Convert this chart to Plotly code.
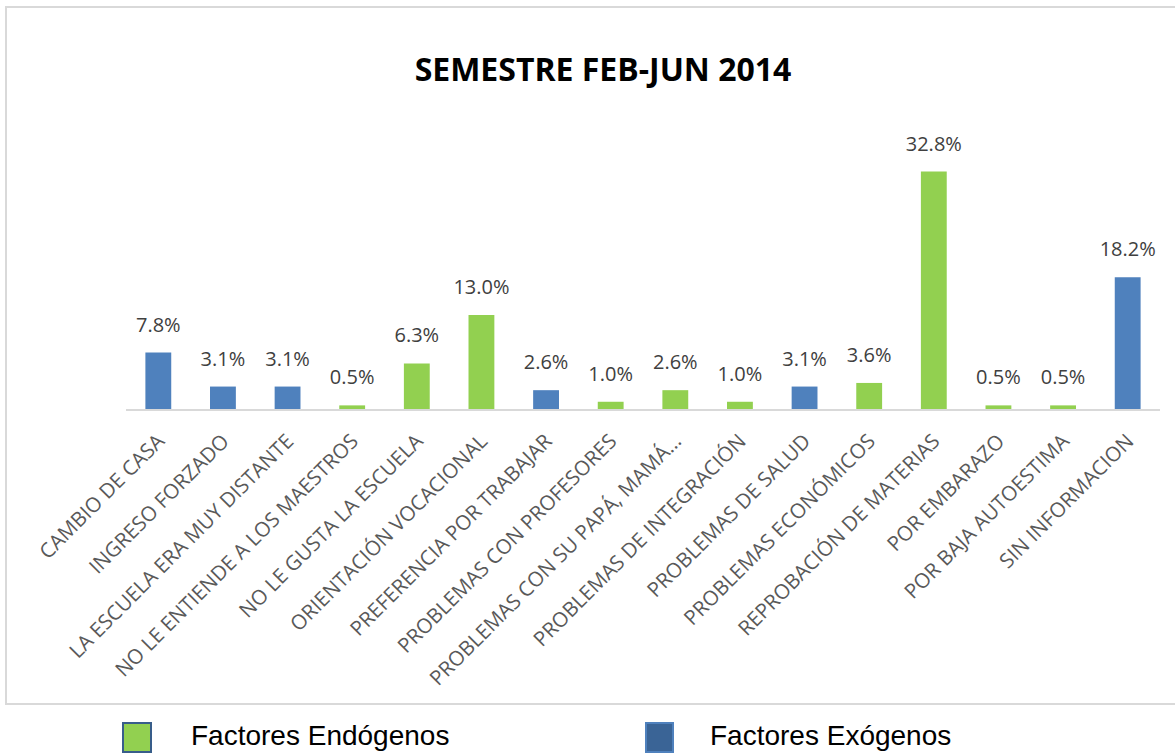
import plotly.graph_objects as go

categories = ["CAMBIO DE CASA", "INGRESO FORZADO", "LA ESCUELA ERA MUY DISTANTE",
              "NO LE ENTIENDE A LOS MAESTROS", "NO LE GUSTA LA ESCUELA",
              "ORIENTACIÓN VOCACIONAL", "PREFERENCIA POR TRABAJAR",
              "PROBLEMAS CON PROFESORES", "PROBLEMAS CON SU PAPÁ, MAMÁ…",
              "PROBLEMAS DE INTEGRACIÓN", "PROBLEMAS DE SALUD",
              "PROBLEMAS ECONÓMICOS", "REPROBACIÓN DE MATERIAS", "POR EMBARAZO",
              "POR BAJA AUTOESTIMA", "SIN INFORMACION"]
values = [7.8, 3.1, 3.1, 0.5, 6.3, 13.0, 2.6, 1.0, 2.6, 1.0, 3.1, 3.6, 32.8, 0.5, 0.5, 18.2]
factor = ["Exo", "Exo", "Exo", "Endo", "Endo", "Endo", "Exo", "Endo", "Endo", "Endo",
          "Exo", "Endo", "Endo", "Endo", "Endo", "Exo"]
legend_names = {"Endo": "Factores Endógenos", "Exo": "Factores Exógenos"}
title = "SEMESTRE FEB-JUN 2014"

GREEN = "#92D050"
BLUE = "#4F81BD"

fig = go.Figure()
for key, col in [("Endo", GREEN), ("Exo", BLUE)]:
    ys = [v if f == key else None for v, f in zip(values, factor)]
    fig.add_trace(go.Bar(
        x=categories, y=ys, name=legend_names[key], marker_color=col,
        marker_line_width=0, showlegend=False, hoverinfo="x+y",
    ))

# data labels placed above each bar
fig.add_trace(go.Scatter(
    x=categories, y=values, mode="markers+text",
    marker=dict(size=24, opacity=0), showlegend=False, hoverinfo="skip",
    text=[f"{v:.1f}%" for v in values], textposition="top center", cliponaxis=False,
    textfont=dict(family="Open Sans", size=20, color="#404040"),
))

L, R, T, B = 126, 15, 100, 344
W, H = 1175, 753
pw, ph = W - L - R, H - T - B

def fx(px):
    return (px - L) / pw

def fy(py):
    return (H - B - py) / ph

shapes = [
    dict(type="rect", xref="paper", yref="paper", x0=fx(6), x1=fx(1185), y0=fy(704), y1=fy(7),
         line=dict(color="#D9D9D9", width=2), fillcolor="rgba(0,0,0,0)", layer="below"),
    dict(type="rect", xref="paper", yref="paper", x0=fx(123), x1=fx(151), y0=fy(752), y1=fy(723),
         line=dict(color="#385D8A", width=2), fillcolor=GREEN),
    dict(type="rect", xref="paper", yref="paper", x0=fx(646), x1=fx(673), y0=fy(752), y1=fy(723),
         line=dict(color="#4F81BD", width=2), fillcolor="#3A6496"),
]
annotations = [
    dict(text=legend_names["Endo"], xref="paper", yref="paper", x=fx(189), y=fy(753),
         xanchor="left", yanchor="bottom", showarrow=False,
         font=dict(family="Liberation Sans", size=28, color="#000000")),
    dict(text=legend_names["Exo"], xref="paper", yref="paper", x=fx(708), y=fy(753),
         xanchor="left", yanchor="bottom", showarrow=False,
         font=dict(family="Liberation Sans", size=28, color="#000000")),
]

fig.update_layout(
    width=W, height=H,
    margin=dict(l=L, r=R, t=T, b=B, autoexpand=False),
    paper_bgcolor="white", plot_bgcolor="white",
    barmode="relative", bargap=0.6,
    title=dict(text="<b>" + title + "</b>", x=603 / W, xanchor="center", y=(H - 70) / H,
               yanchor="middle", font=dict(family="Open Sans", size=32, color="#000000")),
    xaxis=dict(tickangle=-45, tickfont=dict(family="Open Sans", size=20.5, color="#595959"),
               ticklabelstandoff=10, range=[-0.5, len(categories) - 0.5],
               showline=True, linecolor="#D9D9D9", linewidth=2, ticks="", showgrid=False),
    yaxis=dict(visible=False, range=[0, 309 / 7.24]),
    shapes=shapes, annotations=annotations,
)

fig.write_html("out.html", config={"displayModeBar": False},
               post_script="document.body.style.margin='0';document.body.style.overflow='hidden';")
